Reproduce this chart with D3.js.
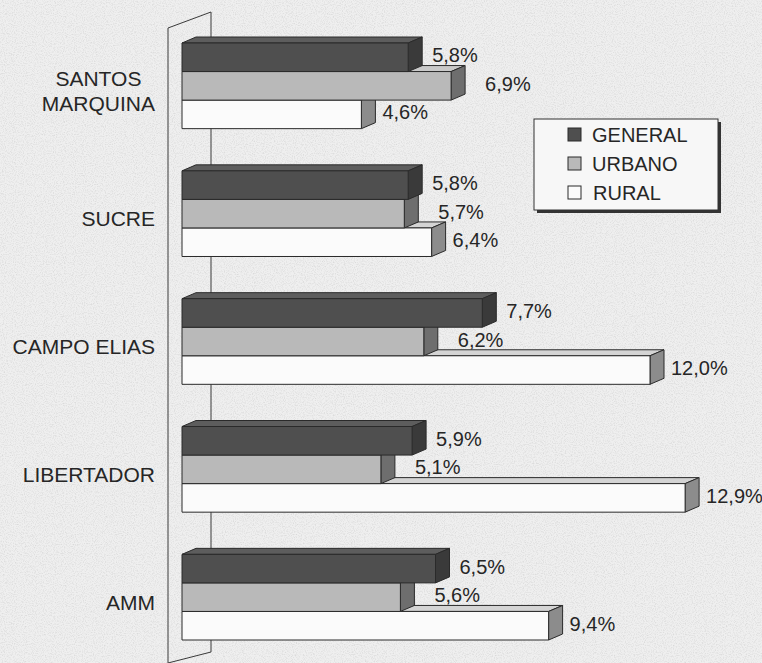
<!DOCTYPE html>
<html>
<head>
<meta charset="UTF-8">
<style>
  body {
    margin: 0;
    background: #efefef;
    font-family: "Liberation Sans", Arial, sans-serif;
  }
  svg { display: block; }
  .cat, .val, .leg {
    fill: #262626;
    font-size: 20px;
  }
  .cat { font-size: 21px; }
</style>
</head>
<body>
<svg width="762" height="663"></svg>
<script src="https://d3js.org/d3.v7.min.js"></script>
<script>
const categories = ["SANTOS\nMARQUINA", "SUCRE", "CAMPO ELIAS", "LIBERTADOR", "AMM"];
const seriesNames = ["GENERAL", "URBANO", "RURAL"];
const general = [5.8, 5.8, 7.7, 5.9, 6.5];
const urbano = [6.9, 5.7, 6.2, 5.1, 5.6];
const rural = [4.6, 6.4, 12.0, 12.9, 9.4];
const seriesValues = [general, urbano, rural];

const colors = {
  GENERAL: { front: "#4f4f4f", top: "#5d5d5d", side: "#3a3a3a" },
  URBANO:  { front: "#b9b9b9", top: "#c9c9c9", side: "#6e6e6e" },
  RURAL:   { front: "#fbfbfb", top: "#d4d4d4", side: "#8c8c8c" }
};
// label gap per series, right of the 3d end
const labelGap = { GENERAL: 10, URBANO: 20, RURAL: 7 };

const svg = d3.select("svg");
const dx = 14, dy = 6;

// light scanned-paper grain
let defs = svg.append("defs");
let grain = defs.append("filter").attr("id", "grain").attr("x", 0).attr("y", 0).attr("width", "100%").attr("height", "100%");
grain.append("feTurbulence").attr("type", "fractalNoise").attr("baseFrequency", 0.9).attr("numOctaves", 2).attr("seed", 3);
grain.append("feColorMatrix").attr("type", "matrix")
  .attr("values", "0 0 0 0 0.45  0 0 0 0 0.45  0 0 0 0 0.45  0 0 0 -2.2 1.25");
svg.append("rect").attr("width", 762).attr("height", 663).attr("fill", "#efefef");
svg.append("rect").attr("width", 762).attr("height", 663).attr("filter", "url(#grain)").attr("opacity", 0.35);

let x = d3.scaleLinear().domain([0, 14]).range([182, 728]);
let y = d3.scaleBand().domain(categories).range([43, 640]).paddingInner(0.33).paddingOuter(0);
let ys = d3.scaleBand().domain(seriesNames).range([0, y.bandwidth()]);

// side wall
let wall = svg.append("g").attr("stroke", "#3a3a3a").attr("stroke-width", 1).attr("fill", "none");
wall.append("path").attr("d", "M168,665 L168,28 L211,12 L211,652 L168,663");

// bars, drawn rural -> urbano -> general so the upper bar hides the top face below it
let rows = [];
categories.forEach((c, ci) => {
  for (let si = seriesNames.length - 1; si >= 0; si--) {
    rows.push({ cat: c, s: seriesNames[si], v: seriesValues[si][ci] });
  }
});

let bars = svg.append("g").attr("stroke", "#2a2a2a").attr("stroke-width", 1).attr("stroke-linejoin", "round");
let h = ys.bandwidth();
rows.forEach(d => {
  let x0 = x(0), xe = x(d.v), yt = y(d.cat) + ys(d.s);
  let g = bars.append("g");
  g.append("polygon")
    .attr("points", [[x0, yt], [xe, yt], [xe + dx, yt - dy], [x0 + dx, yt - dy]].join(" "))
    .attr("fill", colors[d.s].top);
  g.append("polygon")
    .attr("points", [[xe, yt], [xe + dx, yt - dy], [xe + dx, yt + h - dy], [xe, yt + h]].join(" "))
    .attr("fill", colors[d.s].side);
  g.append("rect")
    .attr("x", x0).attr("y", yt)
    .attr("width", xe - x0).attr("height", h)
    .attr("fill", colors[d.s].front);
});

// value labels
svg.append("g").selectAll("text")
  .data(rows)
  .enter()
  .append("text")
  .attr("class", "val")
  .attr("x", d => x(d.v) + dx + labelGap[d.s])
  .attr("y", d => y(d.cat) + ys(d.s) + h / 2 - 2)
  .attr("dominant-baseline", "central")
  .text(d => d.v.toFixed(1).replace(".", ",") + "%");

// category labels: block right aligned at 155, lines centred inside
let catG = svg.append("g");
categories.forEach(c => {
  let lines = c.split("\n");
  let t = catG.append("text").attr("class", "cat").attr("text-anchor", "middle");
  let cy = y(c) + y.bandwidth() / 2 + 5 - (lines.length - 1) * 12.5;
  lines.forEach((l, i) => {
    t.append("tspan").attr("x", 0).attr("y", cy + i * 25).attr("dominant-baseline", "central").text(l);
  });
  let w = t.node().getBBox().width;
  t.selectAll("tspan").attr("x", 155 - w / 2);
});

// legend
let legend = svg.append("g").attr("transform", "translate(534,119)");
legend.append("rect").attr("x", 3).attr("y", 3).attr("width", 184).attr("height", 91).attr("fill", "#333");
legend.append("rect").attr("width", 184).attr("height", 91).attr("fill", "#f7f7f7").attr("stroke", "#333");
seriesNames.forEach((s, i) => {
  legend.append("rect")
    .attr("x", 34).attr("y", 9 + i * 29)
    .attr("width", 13).attr("height", 13)
    .attr("fill", colors[s].front)
    .attr("stroke", "#2a2a2a");
  legend.append("text")
    .attr("class", "leg")
    .attr("x", s === "RURAL" ? 59 : 58)
    .attr("y", 16 + i * 29)
    .attr("dominant-baseline", "central")
    .text(s);
});
</script>
</body>
</html>
